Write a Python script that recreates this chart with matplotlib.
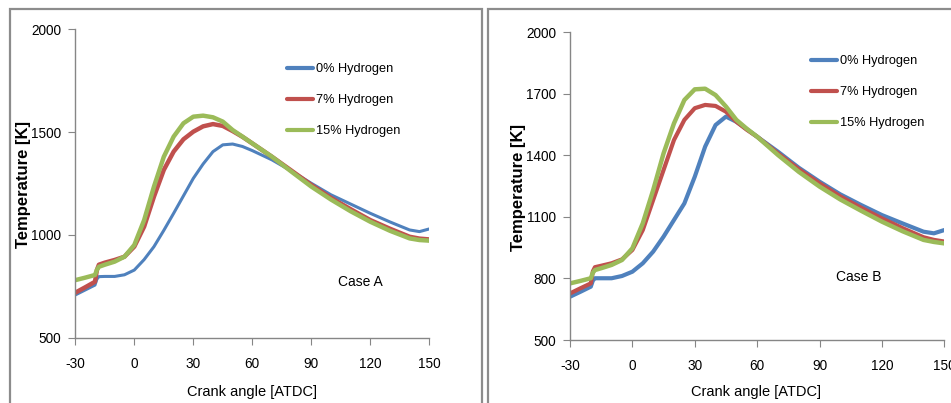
import matplotlib
matplotlib.use("Agg")
import matplotlib.pyplot as plt
from matplotlib.patches import Rectangle

plt.rcParams['font.family'] = ['Liberation Sans', 'DejaVu Sans']
plt.rcParams['axes.unicode_minus'] = False

# crank angle points (deg ATDC)
angle = [-30, -25, -20, -19, -18, -15, -10, -5, 0, 5, 10, 15, 20, 25, 30, 35, 40,
         45, 50, 55, 60, 70, 80, 90, 100, 110, 120, 130, 140, 145, 150]

# Case A temperatures [K]
a_h0 = [708, 732, 756, 785, 797, 798, 798, 806, 829, 880, 943, 1022, 1105, 1190, 1275,
        1345, 1405, 1438, 1442, 1430, 1410, 1365, 1310, 1251, 1195, 1150, 1105, 1063, 1024, 1016, 1029]
a_h7 = [719, 745, 772, 830, 855, 865, 878, 894, 943, 1040, 1186, 1316, 1405, 1465, 1502,
        1528, 1539, 1530, 1505, 1477, 1445, 1380, 1312, 1243, 1180, 1125, 1072, 1030, 991, 982, 978]
a_h15 = [780, 792, 805, 830, 845, 855, 870, 894, 951, 1072, 1235, 1380, 1478, 1543, 1575,
         1580, 1572, 1551, 1510, 1478, 1445, 1380, 1307, 1235, 1172, 1115, 1064, 1020, 983, 975, 972]

# Case B temperatures [K]
b_h0 = [711, 735, 760, 790, 801, 801, 801, 812, 833, 874, 931, 1004, 1085, 1166, 1296,
        1443, 1548, 1589, 1564, 1528, 1491, 1418, 1340, 1272, 1210, 1158, 1109, 1068, 1028, 1020, 1036]
b_h7 = [727, 752, 776, 835, 855, 862, 874, 893, 939, 1036, 1183, 1329, 1475, 1573, 1630,
        1646, 1641, 1613, 1564, 1525, 1491, 1410, 1333, 1264, 1200, 1145, 1093, 1045, 1001, 988, 980]
b_h15 = [776, 788, 801, 828, 841, 850, 866, 890, 947, 1069, 1231, 1410, 1556, 1670, 1722,
         1725, 1694, 1638, 1573, 1530, 1491, 1402, 1320, 1248, 1185, 1130, 1077, 1030, 988, 978, 971]

labels = ['0% Hydrogen', '7% Hydrogen', '15% Hydrogen']
colors = ['#4F81BD', '#C0504D', '#9BBB59']

fig = plt.figure(figsize=(9.51, 4.03), dpi=100)

# chart area borders
W, H = 951, 403
for x0, x1 in [(10, 482), (488, 960)]:
    fig.patches.append(Rectangle((x0 / W, -0.05), (x1 - x0) / W, 1.05 - 9 / H,
                                 transform=fig.transFigure, fill=False,
                                 edgecolor='#8c8c8c', linewidth=1.6))


def draw_panel(rect, series, widths, yticks, case_text, case_xy, leg_xy, xlab_xy, ylab_xy):
    ax = fig.add_axes(rect)
    for vals, lab, c, lw in zip(series, labels, colors, widths):
        ax.plot(angle, vals, color=c, lw=lw, label=lab, solid_joinstyle='round',
                solid_capstyle='round')
    ax.set_xlim(-30, 150)
    ax.set_ylim(500, 2000)
    ax.set_xticks(range(-30, 151, 30))
    ax.set_yticks(yticks)
    for s in ['top', 'right']:
        ax.spines[s].set_visible(False)
    for s in ['left', 'bottom']:
        ax.spines[s].set_color('#868686')
        ax.spines[s].set_linewidth(1.0)
    ax.tick_params(direction='out', length=5, color='#868686', labelsize=9.8)
    ax.tick_params(axis='x', pad=9)
    ax.tick_params(axis='y', pad=5)
    ax.set_facecolor('none')
    leg = ax.legend(loc='upper left', bbox_to_anchor=(leg_xy[0] / W, 1 - leg_xy[1] / H),
                    bbox_transform=fig.transFigure, frameon=False, fontsize=9.2,
                    handlelength=2.05, handletextpad=0.2, labelspacing=1.5,
                    borderaxespad=0, borderpad=0)
    for ln in leg.get_lines():
        ln.set_linewidth(3)
    fig.text(case_xy[0] / W, 1 - case_xy[1] / H, case_text, fontsize=10,
             ha='left', va='center')
    fig.text(xlab_xy[0] / W, 1 - xlab_xy[1] / H, 'Crank angle [ATDC]', fontsize=10.5,
             ha='center', va='center')
    fig.text(ylab_xy[0] / W, 1 - ylab_xy[1] / H, 'Temperature [K]', fontsize=12,
             fontweight='bold', rotation=90, ha='center', va='center')
    return ax


draw_panel([75.3 / W, 1 - 337.7 / H, 354 / W, 308.4 / H],
           [a_h0, a_h7, a_h15], [2.2, 3.2, 3.2], [500, 1000, 1500, 2000],
           'Case A', (338, 282), (287, 63), (252, 392), (24, 184))

draw_panel([570 / W, 1 - 340 / H, 374.3 / W, 307.7 / H],
           [b_h0, b_h7, b_h15], [3.0, 3.0, 3.2], [500, 800, 1100, 1400, 1700, 2000],
           'Case B', (836, 277), (811, 55), (756, 392), (518, 188))

fig.savefig('out.png', dpi=100)
